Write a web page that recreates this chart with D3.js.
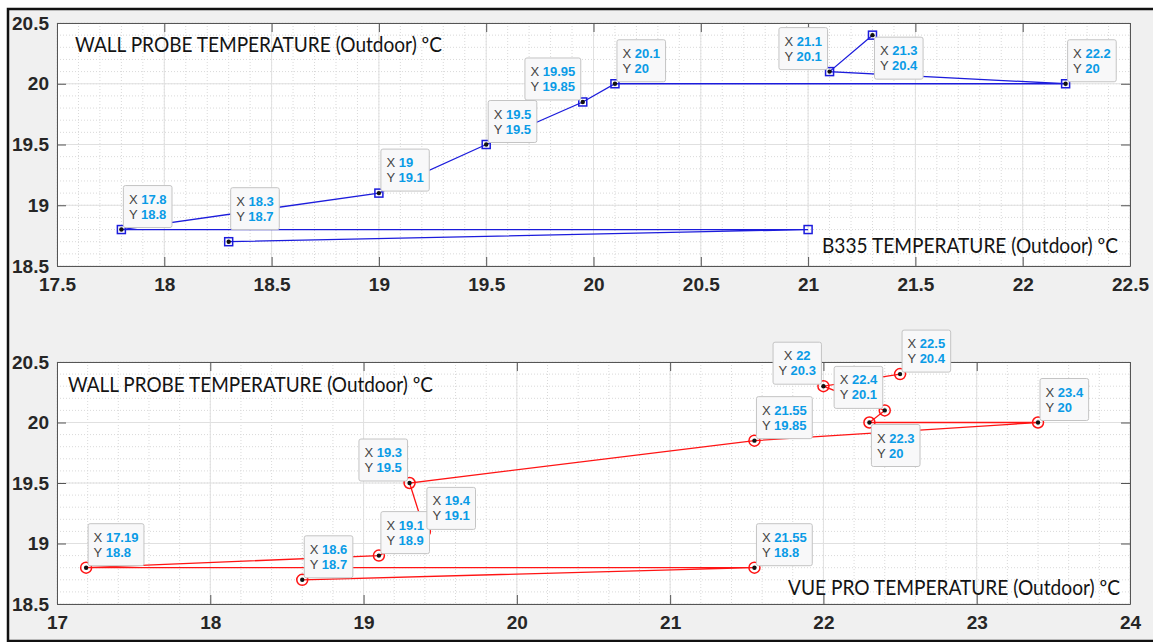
<!DOCTYPE html>
<html>
<head>
<meta charset="utf-8">
<script src="https://cdn.jsdelivr.net/npm/d3@7"></script>
<style>
  body { margin: 0; background: #fff; }
  svg { display: block; }
  .tick text { font-family: "Liberation Sans", Arial, sans-serif; font-weight: bold; font-size: 19px; fill: #262626; }
</style>
</head>
<body>
<svg id="chart" width="1153" height="642"></svg>
<script>
// values in the order the line joins them
const b335X = [18.3, 21, 17.8, 19, 19.5, 19.95, 20.1, 22.2, 21.1, 21.3];
const b335Y = [18.7, 18.8, 18.8, 19.1, 19.5, 19.85, 20, 20, 20.1, 20.4];
const vueX = [18.6, 21.55, 17.19, 19.1, 19.4, 19.3, 21.55, 23.4, 22.3, 22.4, 22, 22.5];
const vueY = [18.7, 18.8, 18.8, 18.9, 19.1, 19.5, 19.85, 20, 20, 20.1, 20.3, 20.4];

const topXTicks = [17.5, 18, 18.5, 19, 19.5, 20, 20.5, 21, 21.5, 22, 22.5];
const bottomXTicks = [17, 18, 19, 20, 21, 22, 23, 24];
const yTicks = [18.5, 19, 19.5, 20, 20.5];

const yLabel = "WALL PROBE TEMPERATURE (Outdoor) ºC";
const b335Label = "B335 TEMPERATURE (Outdoor) ºC";
const vueLabel = "VUE PRO TEMPERATURE (Outdoor) ºC";

// where each data tip sits relative to its point (null = no tip)
const b335Tips = [{p: "ur", dy: -10}, null, {p: "ur"}, {p: "ur"}, {p: "ur"}, {p: "ul"}, {p: "ur"}, {p: "ur"}, {p: "ul"}, {p: "lr"}];
const vueTips = [{p: "ur"}, {p: "ur"}, {p: "ur"}, {p: "ur"}, {p: "ur"}, {p: "ul"}, {p: "ur"}, {p: "ur"}, {p: "lr"}, {p: "ul"}, {p: "ul", align: "middle"}, {p: "ur"}];

const svg = d3.select("#chart");
const fmt = d => String(d);

// figure frame
svg.append("rect")
    .attr("x", 8).attr("y", 9)
    .attr("width", 1170).attr("height", 632)
    .attr("fill", "#f0f0f0")
    .attr("stroke", "#111")
    .attr("stroke-width", 2.5);

function drawPanel(cfg) {
    let g = svg.append("g");
    let x = d3.scaleLinear().domain(cfg.xDomain).range([cfg.left, cfg.right]);
    let y = d3.scaleLinear().domain([18.5, 20.5]).range([cfg.bottom, cfg.top]);
    let w = cfg.right - cfg.left, h = cfg.bottom - cfg.top;

    g.append("rect")
        .attr("x", cfg.left).attr("y", cfg.top)
        .attr("width", w).attr("height", h)
        .attr("fill", "#fff");

    // minor grid
    g.append("g").selectAll("line")
        .data(x.ticks(cfg.minorX)).enter()
        .append("line")
        .attr("x1", d => x(d)).attr("x2", d => x(d))
        .attr("y1", cfg.top).attr("y2", cfg.bottom)
        .attr("stroke", "#d9d9d9").attr("stroke-dasharray", "1,2");
    g.append("g").selectAll("line")
        .data(y.ticks(20)).enter()
        .append("line")
        .attr("y1", d => y(d)).attr("y2", d => y(d))
        .attr("x1", cfg.left).attr("x2", cfg.right)
        .attr("stroke", "#d9d9d9").attr("stroke-dasharray", "1,2");

    // major grid
    g.append("g").selectAll("line")
        .data(cfg.xTicks).enter()
        .append("line")
        .attr("x1", d => x(d)).attr("x2", d => x(d))
        .attr("y1", cfg.top).attr("y2", cfg.bottom)
        .attr("stroke", "#e0e0e0");
    g.append("g").selectAll("line")
        .data(yTicks).enter()
        .append("line")
        .attr("y1", d => y(d)).attr("y2", d => y(d))
        .attr("x1", cfg.left).attr("x2", cfg.right)
        .attr("stroke", "#e0e0e0");

    // axes, ticks pointing inward on all four sides
    let axes = g.append("g").attr("class", "axes");
    axes.append("g")
        .attr("transform", "translate(0," + cfg.bottom + ")")
        .call(d3.axisBottom(x).tickValues(cfg.xTicks).tickFormat(fmt).tickSizeInner(-9).tickSizeOuter(0).tickPadding(12));
    axes.append("g")
        .attr("transform", "translate(" + cfg.left + ",0)")
        .call(d3.axisLeft(y).tickValues(yTicks).tickFormat(fmt).tickSizeInner(-9).tickSizeOuter(0).tickPadding(8));
    axes.append("g")
        .attr("transform", "translate(0," + cfg.top + ")")
        .call(d3.axisTop(x).tickValues(cfg.xTicks).tickSizeInner(-9).tickSizeOuter(0).tickFormat(""));
    axes.append("g")
        .attr("transform", "translate(" + cfg.right + ",0)")
        .call(d3.axisRight(y).tickValues(yTicks).tickSizeInner(-9).tickSizeOuter(0).tickFormat(""));
    axes.selectAll(".domain").attr("stroke", "#555");
    axes.selectAll(".tick line").attr("stroke", "#555");

    // corner labels
    g.append("text")
        .attr("x", cfg.yLabelPos[0]).attr("y", cfg.yLabelPos[1])
        .attr("textLength", cfg.yLabelPos[2]).attr("lengthAdjust", "spacingAndGlyphs")
        .style("font-family", "Lato, 'Open Sans', sans-serif").style("font-size", "21px")
        .attr("fill", "#141414")
        .text(yLabel);
    g.append("text")
        .attr("x", cfg.xLabelPos[0]).attr("y", cfg.xLabelPos[1])
        .attr("textLength", cfg.xLabelPos[2]).attr("lengthAdjust", "spacingAndGlyphs")
        .style("font-family", "Lato, 'Open Sans', sans-serif").style("font-size", "21px")
        .attr("fill", "#141414")
        .text(cfg.xLabel);

    let pts = cfg.xs.map((d, i) => [d, cfg.ys[i]]);

    let line = d3.line()
        .x(d => x(d[0]))
        .y(d => y(d[1]));
    g.append("path")
        .datum(pts)
        .attr("d", line)
        .attr("fill", "none")
        .attr("stroke", cfg.color)
        .attr("stroke-width", 1.3);

    // markers
    let marks = g.append("g").selectAll(".mark")
        .data(pts).enter()
        .append("g")
        .attr("transform", d => "translate(" + x(d[0]) + "," + y(d[1]) + ")");
    if (cfg.marker === "square") {
        marks.append("rect")
            .attr("x", -4).attr("y", -4).attr("width", 8).attr("height", 8)
            .attr("fill", "none").attr("stroke", cfg.color).attr("stroke-width", 1.5);
    } else {
        marks.append("circle")
            .attr("r", 5.5)
            .attr("fill", "none").attr("stroke", cfg.color).attr("stroke-width", 1.5);
    }
    marks.filter((d, i) => cfg.tips[i])
        .append("circle")
        .attr("r", 2.2)
        .attr("fill", "#111");

    // data tips
    pts.forEach(function (d, i) {
        let t = cfg.tips[i];
        if (!t) return;
        let px = x(d[0]), py = y(d[1]);
        let tip = g.append("g");
        let box = tip.append("rect");
        let txt = tip.append("text")
            .style("font-family", "'Liberation Sans', Arial, sans-serif")
            .style("font-size", "13px");
        let rows = [["X", d[0]], ["Y", d[1]]];
        let lines = rows.map(function (r) {
            let tl = txt.append("tspan");
            tl.append("tspan").attr("fill", "#444").text(r[0] + " ");
            tl.append("tspan").attr("fill", "#0a9be6").style("font-weight", "bold").text(r[1]);
            return tl;
        });
        // measure
        let widths = lines.map(l => l.node().getComputedTextLength());
        let bw = d3.max(widths) + 11, bh = 42;
        let bx, by;
        if (t.p === "ur") { bx = px + 2; by = py - 2 - bh; }
        else if (t.p === "ul") { bx = px - 2 - bw; by = py - 2 - bh; }
        else { bx = px + 2; by = py + 2; }
        bx += t.dx || 0;
        by += t.dy || 0;
        box.attr("x", bx).attr("y", by).attr("width", bw).attr("height", bh)
            .attr("rx", 2)
            .attr("fill", "#f8f8f9").attr("stroke", "#c4c4c4");
        lines.forEach(function (l, k) {
            l.attr("y", by + 18 + k * 15);
            if (t.align === "middle") {
                l.attr("x", bx + bw / 2).attr("text-anchor", "middle");
            } else {
                l.attr("x", bx + 5.5);
            }
        });
    });
}

drawPanel({
    left: 57, right: 1130, top: 23, bottom: 266,
    xDomain: [17.5, 22.5], xTicks: topXTicks, minorX: 50,
    xs: b335X, ys: b335Y, tips: b335Tips,
    color: "#1c1cdc", marker: "square",
    xLabel: b335Label,
    yLabelPos: [75, 52, 367], xLabelPos: [822, 253, 296]
});

drawPanel({
    left: 57, right: 1130, top: 362, bottom: 604,
    xDomain: [17, 24], xTicks: bottomXTicks, minorX: 35,
    xs: vueX, ys: vueY, tips: vueTips,
    color: "#ff1414", marker: "circle",
    xLabel: vueLabel,
    yLabelPos: [68, 392, 365], xLabelPos: [788, 595, 332]
});
</script>
</body>
</html>
